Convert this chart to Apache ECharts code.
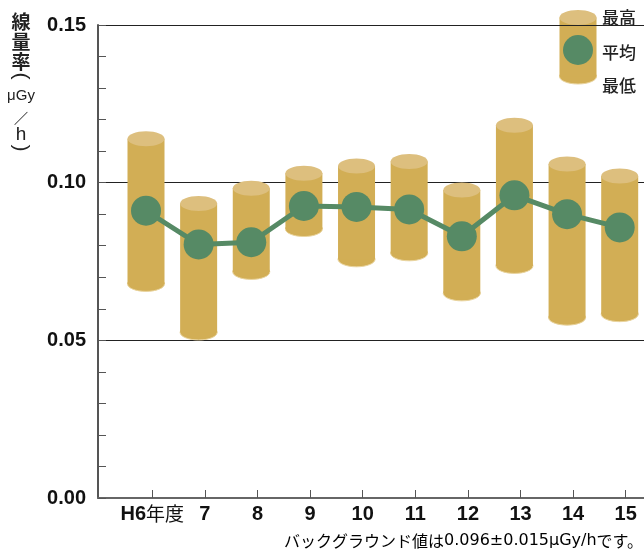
<!DOCTYPE html>
<html>
<head>
<meta charset="utf-8">
<script src="https://cdn.jsdelivr.net/npm/echarts@6/dist/echarts.min.js"></script>
<style>
html,body{margin:0;padding:0;background:#fff;}
#chart{width:644px;height:551px;}
</style>
</head>
<body>
<div id="chart"></div>
<script>
// ---- data ----
const categories = ['H6年度', '7', '8', '9', '10', '11', '12', '13', '14', '15'];
const maxValues = [0.1139, 0.0934, 0.0982, 0.1030, 0.1053, 0.1067, 0.0977, 0.1182, 0.1059, 0.1021];
const minValues = [0.0679, 0.0525, 0.0717, 0.0853, 0.0757, 0.0776, 0.0649, 0.0736, 0.0572, 0.0583];
const avgValues = [0.0911, 0.0804, 0.0811, 0.0926, 0.0923, 0.0915, 0.0830, 0.0960, 0.0900, 0.0858];
const yTitleParts = ['線', '量', '率', '(', 'μGy', '／', 'h', ')'];
const legendNames = ['最高', '平均', '最低'];
const notePrefix = 'バックグラウンド値は';
const noteValue = '0.096±0.015μGy/h';
const noteSuffix = 'です。';

// ---- styles ----
const BODY = '#D2AE55';
const TOP = '#DDBF7E';
const GREEN = '#568A65';
const NUMFONT = '"Liberation Sans", Arial, sans-serif';
const JPFONT = '"Noto Sans CJK JP", sans-serif';
const RX = 18.5, RY = 7.5;

const chart = echarts.init(document.getElementById('chart'), null, {renderer: 'canvas'});

const cylData = categories.map((c, i) => [i, minValues[i], maxValues[i]]);

function cylinder(cx, cyTop, cyBot, rx, ry) {
  return [
    {type: 'ellipse', shape: {cx: cx, cy: cyBot, rx: rx, ry: ry}, style: {fill: BODY, stroke: '#E9D49E', lineWidth: 1}},
    {type: 'rect', shape: {x: cx - rx, y: cyTop, width: 2 * rx, height: cyBot - cyTop}, style: {fill: BODY}},
    {type: 'ellipse', shape: {cx: cx, cy: cyTop, rx: rx, ry: ry}, style: {fill: TOP}}
  ];
}

// y-axis title (vertical)
const titleY = [22, 42, 62, 76, 96, 118, 135, 148];
const titleFonts = [
  'bold 19px ' + JPFONT, 'bold 19px ' + JPFONT, 'bold 19px ' + JPFONT,
  'normal 21px ' + NUMFONT,
  'normal 15px ' + NUMFONT,
  'bold 14px ' + JPFONT,
  'normal 19px ' + NUMFONT,
  'normal 21px ' + NUMFONT
];
const titleRot = [0, 0, 0, -Math.PI / 2, 0, 0, 0, -Math.PI / 2];
const titleGraphics = yTitleParts.map((t, k) => ({
  type: 'text',
  x: 21, y: titleY[k],
  rotation: titleRot[k],
  style: {
    text: t,
    fill: '#222',
    font: titleFonts[k],
    align: 'center', verticalAlign: 'middle'
  },
  z: 100
}));

// legend graphics
const legendGraphics = [
  {type: 'group', z: 100, children: cylinder(578, 17.5, 76.5, RX, RY)},
  {type: 'circle', shape: {cx: 578, cy: 50, r: 15}, style: {fill: GREEN}, z: 101},
  {type: 'text', x: 602, y: 18, style: {text: legendNames[0], font: '500 17px ' + JPFONT, fill: '#222', verticalAlign: 'middle'}, z: 101},
  {type: 'text', x: 602, y: 53, style: {text: legendNames[1], font: '500 17px ' + JPFONT, fill: '#222', verticalAlign: 'middle'}, z: 101},
  {type: 'text', x: 602, y: 86, style: {text: legendNames[2], font: '500 17px ' + JPFONT, fill: '#222', verticalAlign: 'middle'}, z: 101}
];

const noteGraphic = {
  type: 'text', x: 643, y: 541,
  style: {
    text: '{j|' + notePrefix + '}{v|' + noteValue + '}{j|' + noteSuffix + '}',
    align: 'right', verticalAlign: 'middle',
    rich: {
      j: {fontFamily: JPFONT, fontSize: 16, color: '#222'},
      v: {fontFamily: '"DejaVu Sans", sans-serif', fontSize: 16, color: '#222'}
    }
  },
  z: 100
};

const option = {
  animation: false,
  backgroundColor: '#fff',
  grid: [
    {left: 98, right: 0, top: 25, bottom: 53},
    {left: 152.3, right: 18.3, top: 25, bottom: 53},
    {left: 146, right: 24.3, top: 25, bottom: 53}
  ],
  xAxis: [
    {gridIndex: 0, type: 'value', min: 0, max: 1,
      axisLine: {show: true, lineStyle: {color: '#666', width: 2}},
      axisTick: {show: false}, axisLabel: {show: false}, splitLine: {show: false}},
    {gridIndex: 1, type: 'category', data: categories, boundaryGap: false,
      axisLine: {show: false},
      axisTick: {show: true, inside: true, length: 8, interval: 0, lineStyle: {color: '#555', width: 1}},
      axisLabel: {
        interval: 0,
        margin: 6,
        formatter: function (v) {
          if (v.indexOf('年度') >= 0) return '{b|' + v.replace('年度', '') + '}{n|年度}';
          return '{b|' + v + '}';
        },
        rich: {
          b: {fontFamily: NUMFONT, fontWeight: 'bold', fontSize: 20, color: '#111'},
          n: {fontFamily: JPFONT, fontWeight: 'normal', fontSize: 19, color: '#111'}
        }
      },
      splitLine: {show: false}},
    {gridIndex: 2, type: 'category', data: categories, boundaryGap: false, show: false}
  ],
  yAxis: [
    {gridIndex: 0, type: 'value', min: 0, max: 0.15, interval: 0.05,
      axisLine: {show: true, lineStyle: {color: '#555', width: 2}},
      axisTick: {show: true, inside: true, length: 8, lineStyle: {color: '#555'}},
      minorTick: {show: true, splitNumber: 5, length: 8, lineStyle: {color: '#555'}},
      axisLabel: {margin: 12, fontFamily: NUMFONT, fontWeight: 'bold', fontSize: 20, color: '#111',
        formatter: function (v) { return v.toFixed(2); }},
      splitLine: {show: true, lineStyle: {color: '#222', width: 1}}},
    {gridIndex: 1, type: 'value', min: 0, max: 0.15, show: false},
    {gridIndex: 2, type: 'value', min: 0, max: 0.15, show: false}
  ],
  series: [
    {
      type: 'custom', xAxisIndex: 2, yAxisIndex: 2, clip: false, z: 2,
      data: cylData,
      encode: {x: 0, y: [1, 2]},
      renderItem: function (params, api) {
        const i = api.value(0);
        const top = api.coord([i, api.value(2)]);
        const bot = api.coord([i, api.value(1)]);
        return {type: 'group', children: cylinder(top[0], top[1], bot[1], RX, RY)};
      }
    },
    {
      type: 'line', xAxisIndex: 2, yAxisIndex: 2, z: 5,
      data: avgValues,
      symbol: 'circle', symbolSize: 30,
      lineStyle: {color: GREEN, width: 5},
      itemStyle: {color: GREEN}
    }
  ],
  graphic: titleGraphics.concat(legendGraphics, [noteGraphic])
};

chart.setOption(option);
</script>
</body>
</html>
